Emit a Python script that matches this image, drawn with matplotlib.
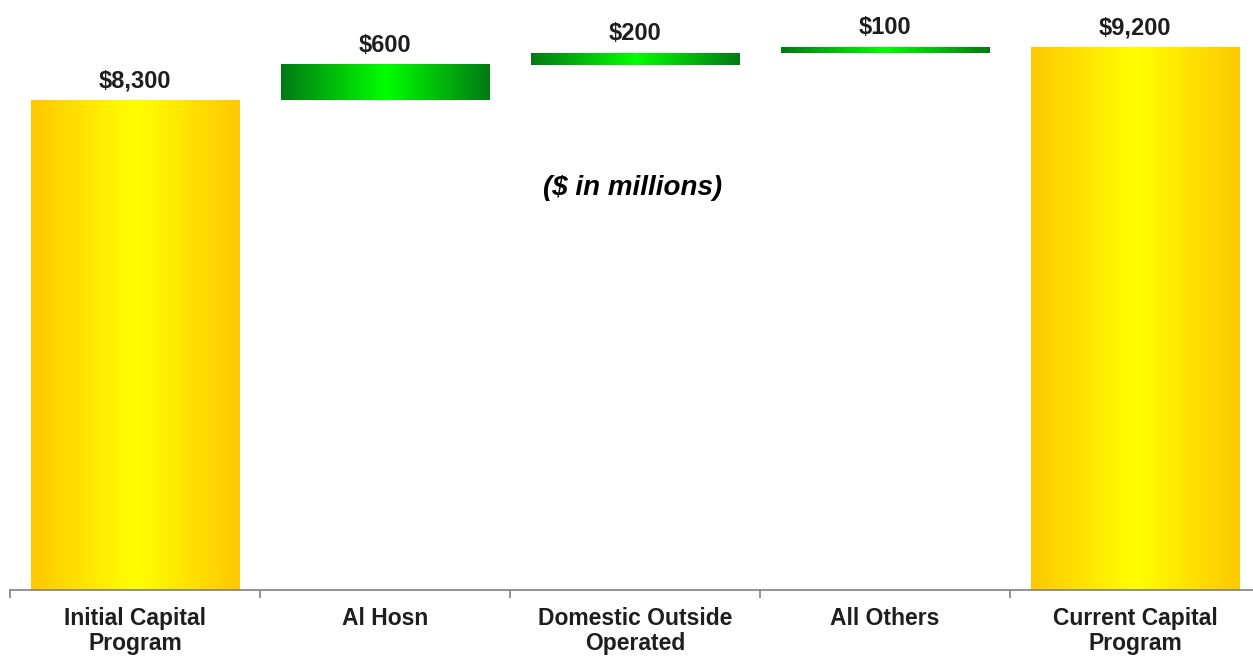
import numpy as np
import matplotlib.pyplot as plt
from matplotlib.colors import LinearSegmentedColormap

# capital program bridge, $ in millions
categories = ["Initial Capital\nProgram", "Al Hosn", "Domestic Outside\nOperated",
              "All Others", "Current Capital\nProgram"]
changes = [8300, 600, 200, 100]
labels = ["$8,300", "$600", "$200", "$100", "$9,200"]

total = sum(changes)
bottoms = [0]
tops = [changes[0]]
for c in changes[1:]:
    bottoms.append(tops[-1])
    tops.append(tops[-1] + c)
bottoms.append(0)
tops.append(total)

plt.rcParams['font.family'] = ['Liberation Sans', 'DejaVu Sans']

fig = plt.figure(figsize=(12.53, 6.61), dpi=100)
ax = fig.add_axes([10 / 1253, 71 / 661, 1243 / 1253, 590 / 661])

gold = LinearSegmentedColormap.from_list("gold", ["#FFC800", "#FFFF00", "#FFC800"])
green = LinearSegmentedColormap.from_list("green", ["#007A14", "#00FF00", "#007A14"])
grad = np.linspace(0, 1, 256).reshape(1, -1)

width = 0.835
for i, (b, t) in enumerate(zip(bottoms, tops)):
    cmap = gold if i in (0, len(tops) - 1) else green
    ax.imshow(grad, cmap=cmap, aspect="auto", interpolation="bicubic",
              extent=(i - width / 2, i + width / 2, b, t), zorder=2)
    ax.text(i, t + 220, labels[i], ha="center", va="baseline",
            fontsize=17, fontweight="bold", color="#1e1e1e")

ax.text(1.99, 6810, "($ in millions)", ha="center", va="center",
        fontsize=20, fontweight="bold", fontstyle="italic", color="black")

for s in ["top", "right", "left"]:
    ax.spines[s].set_visible(False)
ax.spines["bottom"].set_color("#808080")
ax.spines["bottom"].set_linewidth(1.2)
ax.set_yticks([])

ax.set_xticks(range(len(categories)))
ax.set_xticklabels(categories, fontsize=16.5, fontweight="bold", color="#1e1e1e",
                   linespacing=1.12)
ax.tick_params(axis="x", which="major", length=0, pad=12)
ax.set_xticks(np.arange(-0.5, 4.5, 1.0), minor=True)
ax.tick_params(axis="x", which="minor", length=6, color="#808080", width=1.2)

ax.set_xlim(-0.5, -0.5 + 1243 / 250)
ax.set_ylim(0, 10000)

fig.savefig("out.png", dpi=100)
